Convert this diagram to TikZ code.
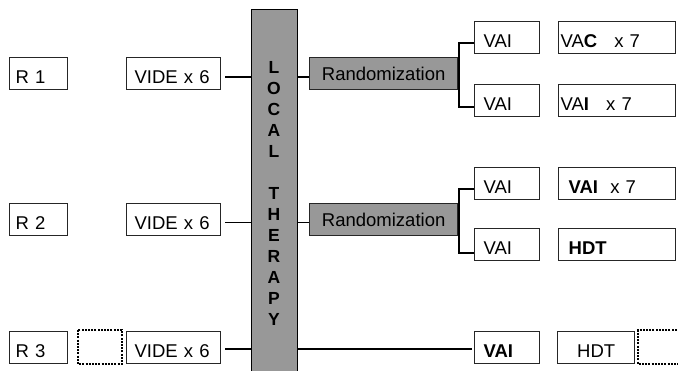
\documentclass[tikz,border=0pt]{standalone}
\usepackage{fontspec}
\setmainfont{Liberation Sans}
\usepackage{tikz}
\usetikzlibrary{positioning,calc}
\usepackage{xcolor}
\definecolor{therapyGray}{HTML}{989898}

\begin{document}
\begin{tikzpicture}[
    x=1pt, y=-1pt,
    boxCell/.style={rectangle, draw=black!85, line width=1.3pt, anchor=north west, inner ysep=0pt, minimum height=32pt, align=left, text height=20pt, text depth=0pt, font=\fontsize{18.5}{20}\selectfont},
    grayBox/.style={boxCell, fill=therapyGray, align=center, text height=13pt},
    dotBox/.style={draw=black, line width=2.5pt, dash pattern=on 2pt off 1.2pt},
    link/.style={draw=black, line width=1.9pt}
]
    \useasboundingbox (0,0) rectangle (678,371);

    % the local therapy bar
    \node[rectangle, draw=black, line width=0.8pt, fill=therapyGray, anchor=north west, minimum width=46pt, minimum height=363pt, inner sep=0pt] (bar) at (251,9) {};
    \node[font=\fontsize{17.5}{21}\selectfont\bfseries, align=center, inner sep=0pt, anchor=north] (barText) at (274,61) {L\\O\\C\\A\\L\\[21pt]T\\H\\E\\R\\A\\P\\Y};

    % arm R 1
    \node[boxCell, inner xsep=6pt, text width=46pt] (r1) at (9,57) {R 1};
    \node[boxCell, inner xsep=8pt, text width=78pt] (vide1) at (126,57) {VIDE x 6};
    \node[grayBox, inner xsep=3pt, text width=142pt] (rand1) at (309,57) {Randomization};
    \node[boxCell, inner xsep=9pt, text width=47pt] (vaiA) at (474,21) {VAI};
    \node[boxCell, inner xsep=2pt, text width=113pt] (vacA) at (558,21) {VA\textbf{C}\hspace{17pt}x 7};
    \node[boxCell, inner xsep=9pt, text width=47pt] (vaiB) at (474,84) {VAI};
    \node[boxCell, inner xsep=2pt, text width=113pt] (vaiRepB) at (558,84) {VA\textbf{I}\hspace{17pt}x 7};

    % arm R 2
    \node[boxCell, inner xsep=6pt, text width=46pt] (r2) at (9,203) {R 2};
    \node[boxCell, inner xsep=8pt, text width=78pt] (vide2) at (126,203) {VIDE x 6};
    \node[grayBox, inner xsep=3pt, text width=142pt] (rand2) at (309,203) {Randomization};
    \node[boxCell, inner xsep=9pt, text width=47pt] (vaiC) at (474,167) {VAI};
    \node[boxCell, inner xsep=10pt, text width=97pt] (vaiRepC) at (558,167) {\textbf{VAI}\hspace{6pt} x 7};
    \node[boxCell, inner xsep=9pt, text width=47pt] (vaiD) at (474,228) {VAI};
    \node[boxCell, inner xsep=10pt, text width=97pt] (hdtD) at (558,228) {\textbf{HDT}};

    % arm R 3
    \node[boxCell, inner xsep=6pt, text width=46pt] (r3) at (9,331) {R 3};
    \node[boxCell, inner xsep=8pt, text width=78pt] (vide3) at (126,331) {VIDE x 6};
    \node[boxCell, inner xsep=9pt, text width=47pt] (vaiE) at (474,331) {\textbf{VAI}};
    \node[boxCell, inner xsep=3pt, text width=71pt, align=center] (hdtE) at (557,331) {HDT};
    \draw[dotBox] (78,330) rectangle (122,364);
    \draw[dotBox] (680,330) -- (638,330) -- (638,364) -- (680,364);

    % connectors
    \coordinate (lineA) at (0,77);
    \coordinate (lineB) at (0,222.5);
    \coordinate (lineC) at (0,349);
    \draw[link, shorten <=4pt] (vide1.east |- lineA) -- (bar.west |- lineA);
    \draw[link] (bar.east |- lineA) -- (rand1.west |- lineA);
    \draw[link, shorten <=4pt] (vide2.east |- lineB) -- (bar.west |- lineB);
    \draw[link] (bar.east |- lineB) -- (rand2.west |- lineB);
    \draw[link, shorten <=4pt] (vide3.east |- lineC) -- (bar.west |- lineC);
    \draw[link, shorten >=2pt] (bar.east |- lineC) -- (vaiE.west |- lineC);

    \draw[link] ([yshift=-5pt]vaiA.west) -| ([xshift=0.5pt]rand1.east) |- ([yshift=-6pt]vaiB.west);
    \draw[link] ([yshift=-5.5pt]vaiC.west) -| ([xshift=0.5pt]rand2.east) |- ([yshift=-8pt]vaiD.west);
\end{tikzpicture}
\end{document}
